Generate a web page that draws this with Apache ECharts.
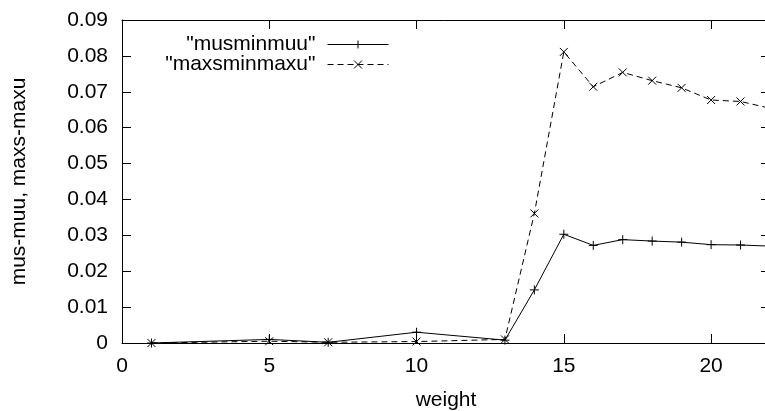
<!DOCTYPE html>
<html><head><meta charset="utf-8">
<script src="https://cdn.jsdelivr.net/npm/echarts@6/dist/echarts.min.js"></script>
<style>html,body{margin:0;padding:0;background:#fff}#c{width:765px;height:411px}</style>
</head><body><div id="c"></div>
<script>
var weights = [1, 5, 7, 10, 13, 14, 15, 16, 17, 18, 19, 20, 21, 22];
var musminmuu = [0, 0.001, 0.0002, 0.003, 0.0008, 0.0148, 0.0303, 0.0272, 0.0288, 0.0284, 0.0281, 0.0274, 0.0273, 0.0270];
var maxsminmaxu = [0, 0.0005, 0.0002, 0.0004, 0.001, 0.0361, 0.0811, 0.0714, 0.0754, 0.0731, 0.0711, 0.0677, 0.0673, 0.0654];
var seriesNames = ['"musminmuu"', '"maxsminmaxu"'];

var FONT = 'Liberation Sans, Arial, sans-serif';
var FS = 21;
var plus = 'path://M5,0L5,10M0,5L10,5';
var cross = 'path://M0,0L10,10M10,0L0,10';
function pairs(ys){ return weights.map(function(w,i){ return [w, ys[i]]; }); }

function mkAxis(extra){
  var a = {
    type:'value',
    axisLine:{show:true, onZero:false, lineStyle:{color:'#000', width:1}},
    axisTick:{show:true, inside:true, length:9, lineStyle:{color:'#000', width:1}},
    splitLine:{show:false}
  };
  for (var k in extra) a[k] = extra[k];
  return a;
}

var chart = echarts.init(document.getElementById('c'), null, {renderer:'canvas'});
chart.setOption({
  animation:false,
  backgroundColor:'#fff',
  grid:{left:122, top:20, width:648, height:323, containLabel:false, outerBoundsMode:'none'},
  xAxis:[
    mkAxis({min:0, max:22, interval:5, position:'bottom',
      name:'weight', nameLocation:'middle', nameGap:47,
      nameTextStyle:{color:'#000', fontSize:FS, fontFamily:FONT},
      axisLabel:{color:'#000', fontSize:FS, fontFamily:FONT, margin:13, showMaxLabel:false}}),
    mkAxis({min:0, max:22, interval:5, position:'top', axisLabel:{show:false}})
  ],
  yAxis:[
    mkAxis({min:0, max:0.09, interval:0.01, position:'left',
      name:'mus-muu, maxs-maxu', nameLocation:'middle', nameGap:92,
      nameTextStyle:{color:'#000', fontSize:FS, fontFamily:FONT},
      axisLabel:{color:'#000', fontSize:FS, fontFamily:FONT, margin:14,
        formatter:function(v){ return v===0 ? '0' : v.toFixed(2); }}}),
    mkAxis({min:0, max:0.09, interval:0.01, position:'right', axisLabel:{show:false}})
  ],
  legend:[
    {data:[seriesNames[0]], orient:'vertical', right:371, top:29, align:'right',
     itemWidth:61, itemHeight:10, lineStyle:{width:1}, itemStyle:{borderWidth:1},
     textStyle:{color:'#000', fontSize:FS, fontFamily:FONT, padding:[0,7,0,0]}},
    {data:[seriesNames[1]], orient:'vertical', right:371, top:49, align:'right',
     itemWidth:61, itemHeight:10, lineStyle:{width:1}, itemStyle:{borderWidth:1},
     textStyle:{color:'#000', fontSize:FS, fontFamily:FONT, padding:[0,7,0,0]}}
  ],
  series:[
    {name:seriesNames[0], type:'line', data:pairs(musminmuu), symbol:plus, symbolSize:9,
     showAllSymbol:true, clip:true,
     lineStyle:{color:'#000', width:1, type:'solid'},
     itemStyle:{color:'transparent', borderColor:'#000', borderWidth:1}},
    {name:seriesNames[1], type:'line', data:pairs(maxsminmaxu), symbol:cross, symbolSize:8,
     showAllSymbol:true, clip:true,
     lineStyle:{color:'#000', width:1, type:[6,4]},
     itemStyle:{color:'transparent', borderColor:'#000', borderWidth:1}},
    {type:'line', xAxisIndex:1, yAxisIndex:1, data:[], silent:true}
  ]
});
</script></body></html>
